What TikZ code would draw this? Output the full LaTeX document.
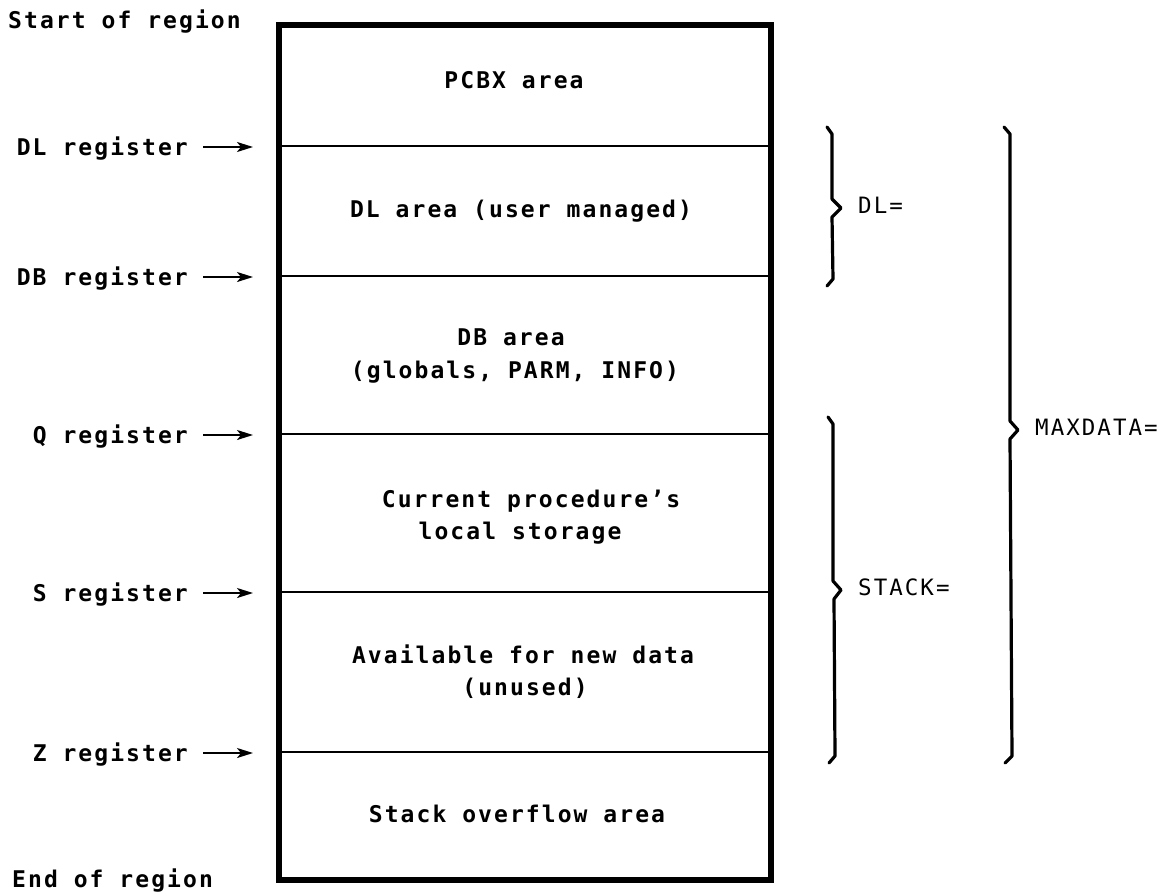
\documentclass[tikz,border=0pt]{standalone}
\usepackage{fontspec}
\usetikzlibrary{arrows.meta}
\newfontfamily\mainmono[LetterSpace=9]{DejaVu Sans Mono Bold}
\newfontfamily\sidemono[LetterSpace=9]{DejaVu Sans Mono}
\begin{document}
\begin{tikzpicture}[x=1pt,y=-1pt,
  txt/.style={inner sep=0pt,font=\fontsize{23}{26}\mainmono},
  side/.style={inner sep=0pt,anchor=base west,font=\fontsize{22.5}{26}\sidemono},
  reg/.style={txt,anchor=base east},
  arr/.style={line width=2pt,-{Stealth[length=16pt,width=10pt,inset=4pt]}},
  divider/.style={line width=2.2pt},
  brace/.style={line width=3.2pt,line join=round,line cap=round}]
\useasboundingbox (0,0) rectangle (1166,892);
% outer box
\node[draw,line width=5.5pt,minimum width=492pt,minimum height=855pt,inner sep=0pt,anchor=north west] (box) at (276,22) {};
% dividers
\coordinate (dlL) at (276,146); \coordinate (dlR) at (768,146);
\coordinate (dbL) at (276,276); \coordinate (dbR) at (768,276);
\coordinate (qL) at (276,434);  \coordinate (qR) at (768,434);
\coordinate (sL) at (276,592);  \coordinate (sR) at (768,592);
\coordinate (zL) at (276,752);  \coordinate (zR) at (768,752);
\foreach \a/\b in {dlL/dlR,dbL/dbR,qL/qR,sL/sR,zL/zR} \draw[divider] (\a) -- (\b);
% box texts
\node[txt,anchor=base] (pcbx) at (514,88) {PCBX area};
\node[txt,anchor=base] (dla) at (521,217) {DL area (user managed)};
\node[txt,anchor=base] (dba1) at (511,345) {DB area};
\node[txt,anchor=base] (dba2) at (515,378) {(globals, PARM, INFO)};
\node[txt,anchor=base] (cur1) at (531,507) {Current procedure’s};
\node[txt,anchor=base] (cur2) at (520,539) {local storage};
\node[txt,anchor=base] (av1) at (523,663) {Available for new data};
\node[txt,anchor=base] (av2) at (525,695) {(unused)};
\node[txt,anchor=base] (ovf) at (517,822) {Stack overflow area};
% left labels
\node[txt,anchor=base west] (start) at (8,28) {Start of region};
\node[txt,anchor=base west] (endr) at (12,887) {End of region};
\node[reg] (rdl) at (188,155) {DL register};
\node[reg] (rdb) at (188,285) {DB register};
\node[reg] (rq) at (188,443) {Q register};
\node[reg] (rs) at (188,601) {S register};
\node[reg] (rz) at (188,761) {Z register};
\coordinate (adl) at (203,147);
\coordinate (adb) at (203,277);
\coordinate (aq) at (203,435);
\coordinate (as) at (203,593);
\coordinate (az) at (203,753);
\coordinate (edl) at (253,147);
\coordinate (edb) at (253,277);
\coordinate (eq) at (253,435);
\coordinate (es) at (253,593);
\coordinate (ez) at (253,753);
\foreach \a/\b in {adl/edl,adb/edb,aq/eq,as/es,az/ez} \draw[arr] (\a) -- (\b);
% braces
\draw[brace] (827,127) -- (832,134) -- (832,199) -- (841,208) -- (832,217) -- (833,279) -- (827,286);
\draw[brace] (828,417) -- (833,424) -- (833,581) -- (841,590) -- (834,599) -- (835,756) -- (829,763);
\draw[brace] (1004,127) -- (1010,134) -- (1010,421) -- (1018,430) -- (1010,439) -- (1012,756) -- (1005,763);
\node[side] (ldl) at (858,213) {DL=};
\node[side] (lstack) at (858,595) {STACK=};
\node[side] (lmax) at (1035,435) {MAXDATA=};
\end{tikzpicture}
\end{document}
